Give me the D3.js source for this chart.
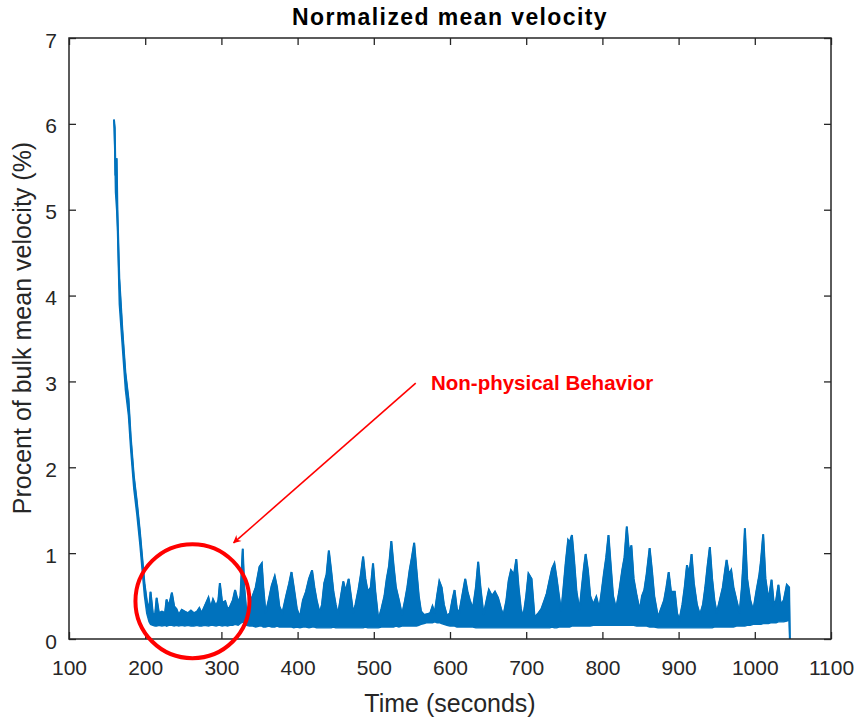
<html>
<head>
  <script src="https://cdn.jsdelivr.net/npm/d3@7"></script>
  <style>
    body { margin: 0; background: #fff; }
    svg text { font-family: "Liberation Sans", Arial, Helvetica, sans-serif; }
  </style>
</head>
<body>
  <svg width="860" height="720"></svg>
  <script>
    // time (s), upper and lower edge of the noisy trace
    var time = [
      159, 160, 161, 162.5, 163.5, 166, 170, 174, 178, 181,
      185, 189, 193, 196, 199, 202, 205, 207, 210, 213,
      215, 218, 222, 226, 228, 231, 235, 238, 241, 244,
      248, 252, 256, 260, 264, 268, 271, 274, 278, 283,
      286, 289, 293, 296, 298, 301, 305, 308, 311, 315,
      318, 322, 325, 328, 330, 333, 337, 341, 345, 350,
      353, 355, 358, 362, 366, 370, 373, 376, 380, 385,
      389, 392, 395, 399, 403, 407, 411, 415, 419, 422,
      425, 429, 432, 435, 438, 441, 444, 447, 450, 453,
      456, 460, 463, 467, 470, 473, 476, 480, 483, 486,
      489, 492, 496, 499, 502, 506, 510, 514, 517, 520,
      523, 526, 529, 533, 537, 541, 544, 547, 550, 553,
      556, 559, 562, 566, 570, 574, 577, 580, 583, 586,
      589, 592, 596, 600, 603, 606, 609, 612, 616, 620,
      623, 626, 630, 634, 637, 640, 644, 648, 651, 655,
      659, 663, 667, 670, 674, 677, 680, 684, 687, 690,
      693, 696, 700, 703, 707, 711, 716, 720, 724, 727,
      731, 734, 737, 740, 743, 746, 749, 752, 755, 757,
      760, 763, 766, 770, 773, 776, 778, 781, 784, 788,
      792, 796, 799, 802, 805, 808, 811, 814, 818, 822,
      826, 829, 832, 835, 838, 841, 845, 849, 852, 855,
      858, 862, 865, 868, 873, 877, 881, 884, 887, 890,
      895, 898, 901, 905, 908, 911, 914, 917, 920, 924,
      928, 932, 935, 938, 941, 944, 947, 950, 954, 958,
      961, 963, 966, 969, 972, 976, 980, 983, 985, 987,
      990, 994, 998, 1002, 1006, 1008, 1011, 1014, 1018, 1022,
      1025, 1028, 1031, 1034, 1038, 1042, 1045, 1046
    ];
    var hi = [
      6.05, 5.95, 5.4, 5.6, 5.0, 4.2, 3.6, 3.1, 2.8, 2.35,
      1.9, 1.6, 1.25, 0.95, 0.65, 0.45, 0.32, 0.55, 0.3, 0.28,
      0.48, 0.3, 0.32, 0.3, 0.46, 0.38, 0.54, 0.38, 0.35, 0.28,
      0.34, 0.32, 0.3, 0.33, 0.3, 0.32, 0.36, 0.3, 0.38, 0.48,
      0.36, 0.46, 0.38, 0.45, 0.65, 0.42, 0.44, 0.35, 0.37, 0.45,
      0.57, 0.42, 0.5, 1.05, 0.6, 0.3, 0.42, 0.5, 0.6, 0.84,
      0.88, 0.6, 0.3, 0.45, 0.62, 0.73, 0.6, 0.38, 0.3, 0.5,
      0.65, 0.78, 0.6, 0.35, 0.25, 0.45, 0.55, 0.7, 0.8, 0.6,
      0.45, 0.3, 0.4, 0.65, 0.75, 1.03, 0.8, 0.55, 0.4, 0.28,
      0.45, 0.67, 0.55, 0.7, 0.5, 0.3, 0.4, 0.58, 0.75, 0.96,
      0.7, 0.55, 0.6, 0.88, 0.55, 0.22, 0.35, 0.5, 0.7, 0.85,
      1.14, 0.85, 0.6, 0.45, 0.28, 0.45, 0.6, 0.8, 0.95, 1.12,
      0.8, 0.5, 0.32, 0.28, 0.29, 0.3, 0.38, 0.3, 0.5, 0.67,
      0.6, 0.4, 0.27, 0.3, 0.45, 0.57, 0.35, 0.3, 0.5, 0.7,
      0.55, 0.45, 0.35, 0.6, 0.9, 0.6, 0.28, 0.45, 0.57, 0.5,
      0.55, 0.48, 0.35, 0.27, 0.45, 0.68, 0.8, 0.75, 0.93, 0.6,
      0.35, 0.25, 0.5, 0.76, 0.7, 0.25, 0.3, 0.35, 0.45, 0.53,
      0.7, 0.82, 0.88, 0.7, 0.5, 0.32, 0.6, 0.9, 1.15, 1.12,
      1.21, 0.9, 0.55, 0.33, 0.6, 0.85, 0.99, 0.8, 0.5, 0.4,
      0.49, 0.35, 0.55, 0.76, 0.95, 1.21, 0.85, 0.5, 0.35, 0.55,
      0.8, 0.95, 1.31, 1.0, 1.09, 0.7, 0.5, 0.33, 0.5, 0.57,
      0.75, 1.06, 0.8, 0.5, 0.25, 0.35, 0.45, 0.6, 0.78, 0.55,
      0.55, 0.3, 0.22, 0.4, 0.6, 0.86, 0.75, 0.99, 0.65, 0.4,
      0.28, 0.4, 0.6, 0.85, 1.07, 0.7, 0.45, 0.3, 0.45, 0.6,
      0.8, 0.92, 0.75, 0.8, 0.6, 0.45, 0.3, 0.6, 0.9, 1.29,
      0.7, 0.45, 0.33, 0.55, 0.75, 0.9, 1.22, 0.7, 0.45, 0.69,
      0.4, 0.45, 0.63, 0.4, 0.45, 0.63, 0.6, 0.0
    ];
    var lo = [
      6.0, 5.7, 5.2, 5.0, 4.8, 3.9, 3.4, 2.9, 2.6, 2.2,
      1.75, 1.45, 1.1, 0.8, 0.5, 0.3, 0.2, 0.17, 0.16, 0.15,
      0.15, 0.16, 0.15, 0.16, 0.15, 0.16, 0.16, 0.15, 0.16, 0.15,
      0.16, 0.15, 0.16, 0.15, 0.15, 0.16, 0.15, 0.15, 0.16, 0.15,
      0.16, 0.16, 0.15, 0.16, 0.16, 0.15, 0.16, 0.15, 0.16, 0.16,
      0.17, 0.16, 0.18, 0.2, 0.18, 0.16, 0.15, 0.15, 0.14, 0.15,
      0.15, 0.14, 0.14, 0.15, 0.14, 0.14, 0.15, 0.14, 0.14, 0.14,
      0.14, 0.14, 0.13, 0.14, 0.13, 0.14, 0.14, 0.13, 0.14, 0.14,
      0.13, 0.13, 0.13, 0.13, 0.13, 0.13, 0.13, 0.14, 0.13, 0.13,
      0.13, 0.13, 0.13, 0.13, 0.13, 0.13, 0.13, 0.13, 0.13, 0.13,
      0.14, 0.13, 0.13, 0.13, 0.13, 0.13, 0.14, 0.14, 0.14, 0.14,
      0.14, 0.14, 0.15, 0.14, 0.15, 0.15, 0.15, 0.15, 0.15, 0.15,
      0.15, 0.16, 0.17, 0.18, 0.19, 0.19, 0.19, 0.2, 0.19, 0.19,
      0.18, 0.17, 0.16, 0.15, 0.15, 0.15, 0.14, 0.14, 0.14, 0.14,
      0.14, 0.14, 0.14, 0.13, 0.13, 0.13, 0.13, 0.13, 0.13, 0.13,
      0.13, 0.13, 0.13, 0.13, 0.13, 0.13, 0.13, 0.13, 0.13, 0.13,
      0.13, 0.13, 0.13, 0.13, 0.13, 0.13, 0.13, 0.13, 0.13, 0.13,
      0.13, 0.14, 0.13, 0.13, 0.14, 0.14, 0.14, 0.14, 0.14, 0.14,
      0.15, 0.15, 0.15, 0.15, 0.15, 0.15, 0.15, 0.15, 0.15, 0.16,
      0.16, 0.16, 0.16, 0.16, 0.16, 0.16, 0.16, 0.16, 0.16, 0.16,
      0.16, 0.16, 0.16, 0.16, 0.16, 0.16, 0.15, 0.15, 0.15, 0.15,
      0.15, 0.14, 0.14, 0.14, 0.13, 0.13, 0.13, 0.13, 0.13, 0.13,
      0.13, 0.13, 0.13, 0.13, 0.13, 0.13, 0.13, 0.13, 0.13, 0.13,
      0.13, 0.13, 0.13, 0.13, 0.13, 0.13, 0.14, 0.14, 0.14, 0.14,
      0.14, 0.14, 0.14, 0.14, 0.14, 0.15, 0.15, 0.15, 0.15, 0.15,
      0.16, 0.16, 0.17, 0.17, 0.17, 0.17, 0.18, 0.18, 0.18, 0.19,
      0.19, 0.19, 0.2, 0.2, 0.2, 0.21, 0.22, 0.0
    ];
    var xTicks = [100, 200, 300, 400, 500, 600, 700, 800, 900, 1000, 1100];
    var yTicks = [0, 1, 2, 3, 4, 5, 6, 7];

    var svg = d3.select("svg");
    var padLeft = 69, padRight = 831, padTop = 38, padBottom = 639;
    var lineColor = "#0072BD", axisColor = "#262626";

    var x = d3.scaleLinear().domain([100, 1100]).range([padLeft, padRight]);
    var y = d3.scaleLinear().domain([0, 7]).range([padBottom, padTop]);

    var pts = time.map(function(t, i) {
      return { t: t, hi: hi[i], lo: lo[i] };
    });

    // trace: filled band between lower and upper edge, plus a line on top
    svg.append("path")
      .datum(pts)
      .attr("fill", lineColor)
      .attr("stroke", lineColor)
      .attr("stroke-width", 1.4)
      .attr("d", d3.area()
        .x(function(d) { return x(d.t); })
        .y0(function(d) { return y(d.lo); })
        .y1(function(d) { return y(d.hi); }));

    svg.append("path")
      .datum(pts)
      .attr("fill", "none")
      .attr("stroke", lineColor)
      .attr("stroke-width", 2)
      .attr("d", d3.line()
        .x(function(d) { return x(d.t); })
        .y(function(d) { return y(d.hi); }));

    // axes, MATLAB style: box with inward ticks on all sides
    var tickLen = 7;
    var gx = svg.append("g")
      .attr("transform", "translate(0," + padBottom + ")")
      .call(d3.axisBottom(x).tickValues(xTicks).tickFormat(d3.format("d"))
        .tickSizeInner(-tickLen).tickSizeOuter(0).tickPadding(21));
    var gy = svg.append("g")
      .attr("transform", "translate(" + padLeft + ",0)")
      .call(d3.axisLeft(y).tickValues(yTicks).tickFormat(d3.format("d"))
        .tickSizeInner(-tickLen).tickSizeOuter(0).tickPadding(12));
    svg.append("g")
      .attr("transform", "translate(0," + padTop + ")")
      .call(d3.axisTop(x).tickValues(xTicks).tickSizeInner(-tickLen).tickSizeOuter(0).tickFormat(""));
    svg.append("g")
      .attr("transform", "translate(" + padRight + ",0)")
      .call(d3.axisRight(y).tickValues(yTicks).tickSizeInner(-tickLen).tickSizeOuter(0).tickFormat(""));

    svg.selectAll(".domain").remove();
    svg.selectAll(".tick line").attr("stroke", axisColor).attr("stroke-width", 1.3);
    svg.selectAll(".tick text")
      .attr("fill", axisColor)
      .attr("font-size", "21px")
      .attr("font-family", "Liberation Sans, Arial, sans-serif");
    gy.selectAll(".tick text").attr("dy", "0.43em");

    svg.append("rect")
      .attr("x", padLeft).attr("y", padTop)
      .attr("width", padRight - padLeft).attr("height", padBottom - padTop)
      .attr("fill", "none")
      .attr("stroke", axisColor)
      .attr("stroke-width", 1.5);

    svg.append("text")
      .attr("x", (padLeft + padRight) / 2)
      .attr("y", 25)
      .attr("text-anchor", "middle")
      .attr("font-size", "23px")
      .attr("font-weight", "bold")
      .attr("letter-spacing", "1.4px")
      .attr("fill", "#000")
      .text("Normalized mean velocity");

    svg.append("text")
      .attr("x", (padLeft + padRight) / 2)
      .attr("y", 712)
      .attr("text-anchor", "middle")
      .attr("font-size", "25px")
      .attr("fill", axisColor)
      .text("Time (seconds)");

    svg.append("text")
      .attr("transform", "translate(31," + 328 + ") rotate(-90)")
      .attr("text-anchor", "middle")
      .attr("font-size", "25px")
      .attr("fill", axisColor)
      .text("Procent of bulk mean velocity (%)");

    // annotation
    var red = "#FF0000";
    svg.append("defs").append("marker")
      .attr("id", "arrow")
      .attr("viewBox", "0 0 10 10")
      .attr("refX", 9).attr("refY", 5)
      .attr("markerWidth", 12).attr("markerHeight", 8)
      .attr("markerUnits", "userSpaceOnUse")
      .attr("orient", "auto")
      .append("path")
      .attr("d", "M0,0 L10,5 L0,10 L3,5 Z")
      .attr("fill", red);

    svg.append("line")
      .attr("x1", x(555)).attr("y1", y(2.98))
      .attr("x2", x(316)).attr("y2", y(1.12))
      .attr("stroke", red)
      .attr("stroke-width", 1.6)
      .attr("marker-end", "url(#arrow)");

    svg.append("text")
      .attr("x", 431)
      .attr("y", 390)
      .attr("font-family", "Lato, 'Open Sans', sans-serif")
      .attr("font-size", "20.5px")
      .attr("font-weight", "bold")
      .attr("fill", red)
      .text("Non-physical Behavior");

    svg.append("circle")
      .attr("cx", x(262))
      .attr("cy", y(0.44))
      .attr("r", 57)
      .attr("fill", "none")
      .attr("stroke", red)
      .attr("stroke-width", 4);
  </script>
</body>
</html>
